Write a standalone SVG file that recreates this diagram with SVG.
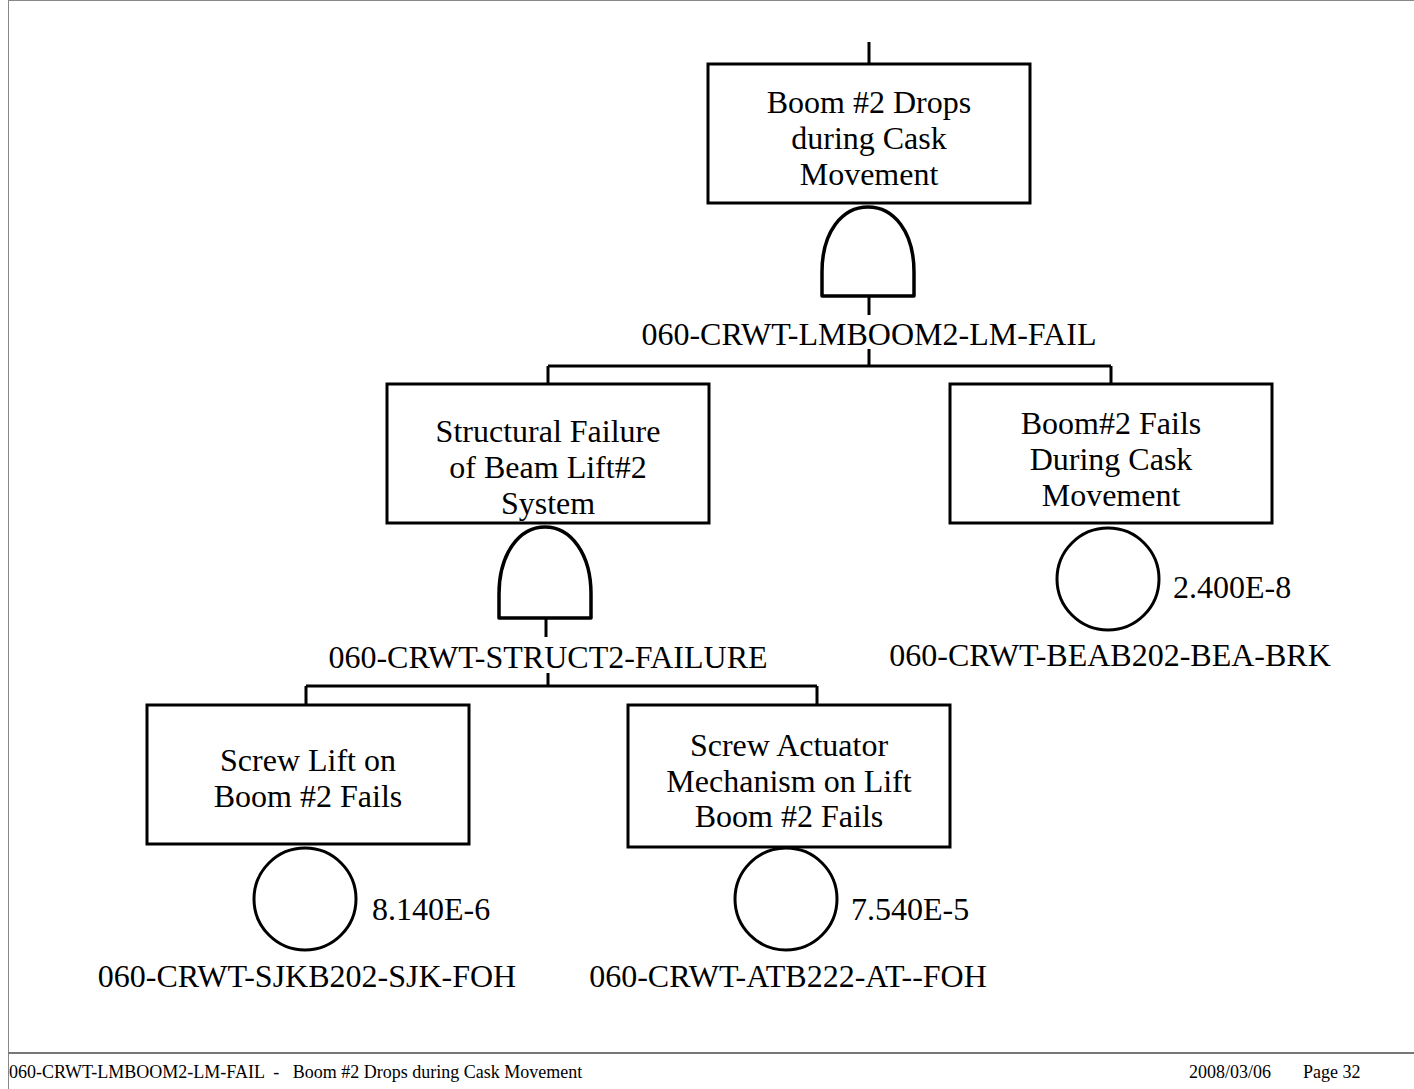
<svg xmlns="http://www.w3.org/2000/svg" width="1414" height="1089" viewBox="0 0 1414 1089">
<style>
.b{fill:#fff;stroke:#000;stroke-width:3}
.g{fill:#fff;stroke:#000;stroke-width:3.5;stroke-linejoin:round}
.l{fill:none;stroke:#000;stroke-width:3}
.t{font-family:"Liberation Serif","Times New Roman",serif;font-size:32px;fill:#000;text-anchor:middle}
.p{font-family:"Liberation Serif","Times New Roman",serif;font-size:32px;fill:#000}
.f{font-family:"Liberation Serif","Times New Roman",serif;font-size:18px;fill:#000;white-space:pre}
</style>
<rect x="8.5" y="0.5" width="1410" height="1095" fill="none" stroke="#888" stroke-width="1"/>
<line x1="8" y1="1053" x2="1414" y2="1053" stroke="#777" stroke-width="2"/>
<text class="f" x="9" y="1078" xml:space="preserve">060-CRWT-LMBOOM2-LM-FAIL  -   Boom #2 Drops during Cask Movement</text>
<text class="f" x="1189" y="1078">2008/03/06</text>
<text class="f" x="1303" y="1078">Page 32</text>
<g id="connectors">
<path class="l" d="M869 42V64"/>
<path class="l" d="M869 296V315"/>
<path class="l" d="M869 349V366M548 366H1111M548 366V384M1111 366V384"/>
<path class="l" d="M546 618V637"/>
<path class="l" d="M548 673V686M306 686H817M306 686V705M817 686V705"/>
</g>
<g id="n-top">
<rect class="b" x="708" y="64" width="322" height="139"/>
<text class="t" x="869" y="113">Boom #2 Drops</text>
<text class="t" x="869" y="149">during Cask</text>
<text class="t" x="869" y="185">Movement</text>
</g>
<g id="g-top">
<path class="g" d="M822 296V272C822 232 842 207 868 207C894 207 914 232 914 272V296Z"/>
<text class="t" x="869" y="345">060-CRWT-LMBOOM2-LM-FAIL</text>
</g>
<g id="n-struct">
<rect class="b" x="387" y="384" width="322" height="139"/>
<text class="t" x="548" y="442">Structural Failure</text>
<text class="t" x="548" y="478">of Beam Lift#2</text>
<text class="t" x="548" y="514">System</text>
</g>
<g id="g-struct">
<path class="g" d="M499 618V594C499 554 519 527 545 527C571 527 591 554 591 594V618Z"/>
<text class="t" x="548" y="668">060-CRWT-STRUCT2-FAILURE</text>
</g>
<g id="n-boom">
<rect class="b" x="950" y="384" width="322" height="139"/>
<text class="t" x="1111" y="434">Boom#2 Fails</text>
<text class="t" x="1111" y="470">During Cask</text>
<text class="t" x="1111" y="506">Movement</text>
</g>
<g id="e-beab">
<circle class="b" cx="1108" cy="579" r="51"/>
<text class="p" x="1173" y="598">2.400E-8</text>
<text class="t" x="1110" y="666">060-CRWT-BEAB202-BEA-BRK</text>
</g>
<g id="n-screwlift">
<rect class="b" x="147" y="705" width="322" height="139"/>
<text class="t" x="308" y="771">Screw Lift on</text>
<text class="t" x="308" y="807">Boom #2 Fails</text>
</g>
<g id="e-sjk">
<circle class="b" cx="305" cy="899" r="51"/>
<text class="p" x="372" y="920">8.140E-6</text>
<text class="t" x="307" y="987">060-CRWT-SJKB202-SJK-FOH</text>
</g>
<g id="n-actuator">
<rect class="b" x="628" y="705" width="322" height="142"/>
<text class="t" x="789" y="756">Screw Actuator</text>
<text class="t" x="789" y="792">Mechanism on Lift</text>
<text class="t" x="789" y="827">Boom #2 Fails</text>
</g>
<g id="e-atb">
<circle class="b" cx="786" cy="899" r="51"/>
<text class="p" x="851" y="920">7.540E-5</text>
<text class="t" x="788" y="987">060-CRWT-ATB222-AT--FOH</text>
</g>
</svg>
